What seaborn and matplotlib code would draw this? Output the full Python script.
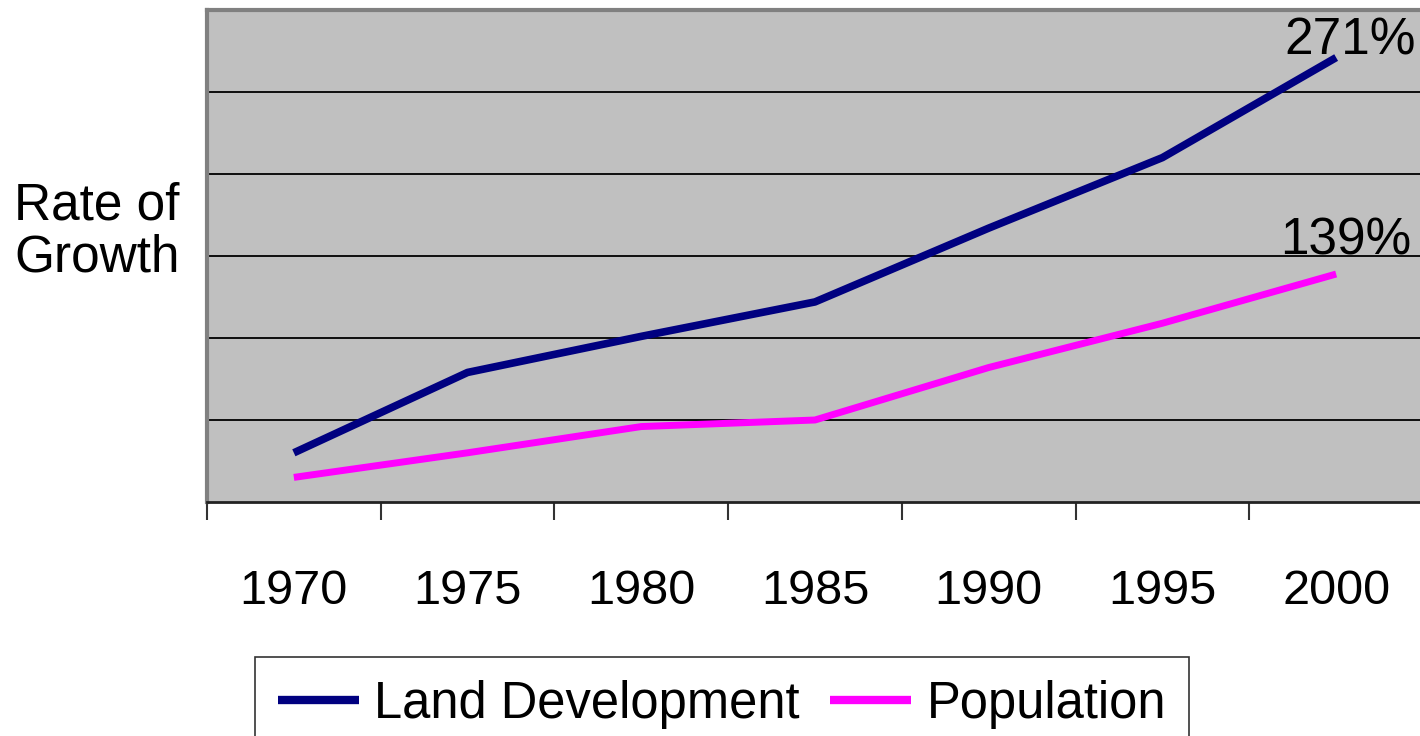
import matplotlib
matplotlib.use("Agg")
import matplotlib.pyplot as plt
import seaborn as sns
import pandas as pd

# data (percent growth since 1970)
years = ["1970", "1975", "1980", "1985", "1990", "1995", "2000"]
land_dev = [30, 79, 101, 122, 167, 210, 271]
population = [15, 30, 46, 50, 82, 109, 139]
end_labels = ["271%", "139%"]

NAVY = "#000080"
MAGENTA = "#FF00FF"
PLOT_BG = "#C0C0C0"
TICK_SIZE = 35
TEXT_SIZE = 37

sns.set_style("white")
plt.rcParams["font.family"] = ["Liberation Sans", "DejaVu Sans"]
plt.rcParams["text.color"] = "black"
plt.rcParams["xtick.color"] = "black"

df = pd.DataFrame({"Year": years, "Land Development": land_dev, "Population": population})

fig = plt.figure(figsize=(14.2, 7.36), dpi=100)
ax = fig.add_axes([207 / 1420, 234 / 736, 1216 / 1420, 492 / 736])
ax.set_facecolor(PLOT_BG)

sns.lineplot(data=df, x="Year", y="Land Development", color=NAVY, linewidth=5.5,
             label="Land Development", ax=ax, zorder=3, solid_capstyle="butt")
sns.lineplot(data=df, x="Year", y="Population", color=MAGENTA, linewidth=5,
             label="Population", ax=ax, zorder=3, solid_capstyle="butt")

ax.set_xlim(-0.5, len(years) - 0.5)
ax.set_ylim(0, 300)

# horizontal grid lines, no y tick labels
for yv in range(50, 300, 50):
    ax.axhline(yv, color="black", linewidth=1.3, zorder=1)
ax.set_yticks([])
ax.set_ylabel("")
ax.set_xlabel("")

# category labels centered, tick marks between categories
ax.set_xticks(range(len(years)))
ax.set_xticklabels(years, fontsize=TICK_SIZE, color="black")
ax.set_xticks([i - 0.5 for i in range(len(years) + 1)], minor=True)
ax.tick_params(axis="x", which="major", length=0, pad=48)
ax.tick_params(axis="x", which="minor", length=13, width=1.5, color="#333333", direction="out", bottom=True)

for side in ["left", "top"]:
    ax.spines[side].set_color("#808080")
    ax.spines[side].set_linewidth(3)
ax.spines["bottom"].set_color("#222222")
ax.spines["bottom"].set_linewidth(2)
ax.spines["right"].set_visible(False)

# end of line labels
ax.annotate(end_labels[0], xy=(len(years) - 1, land_dev[-1]), xytext=(10, 2),
            textcoords="offset points", ha="center", va="baseline", fontsize=TEXT_SIZE,
            color="black", zorder=4)
ax.annotate(end_labels[1], xy=(len(years) - 1, population[-1]), xytext=(7, 14),
            textcoords="offset points", ha="center", va="baseline", fontsize=TEXT_SIZE,
            color="black", zorder=4)

fig.text(14 / 1420, 1 - 232 / 736, "Rate of\nGrowth", ha="left", va="center",
         fontsize=TEXT_SIZE, linespacing=1.1, color="black")

ax.legend_.remove()
handles, labels = ax.get_legend_handles_labels()
leg = fig.legend(handles, labels, loc="upper center", bbox_to_anchor=(722 / 1420, 1 - 657 / 736),
                 ncol=2, fontsize=36.5, frameon=True, fancybox=False, shadow=False,
                 handlelength=1.6, handletextpad=0.3, columnspacing=0.6, borderpad=0.45,
                 borderaxespad=0)
leg.get_frame().set_edgecolor("black")
leg.get_frame().set_linewidth(1.2)
for line in leg.get_lines():
    line.set_linewidth(6)
    line.set_solid_capstyle("butt")
for t in leg.get_texts():
    t.set_color("black")

fig.savefig("out.png", dpi=100, facecolor="white")
